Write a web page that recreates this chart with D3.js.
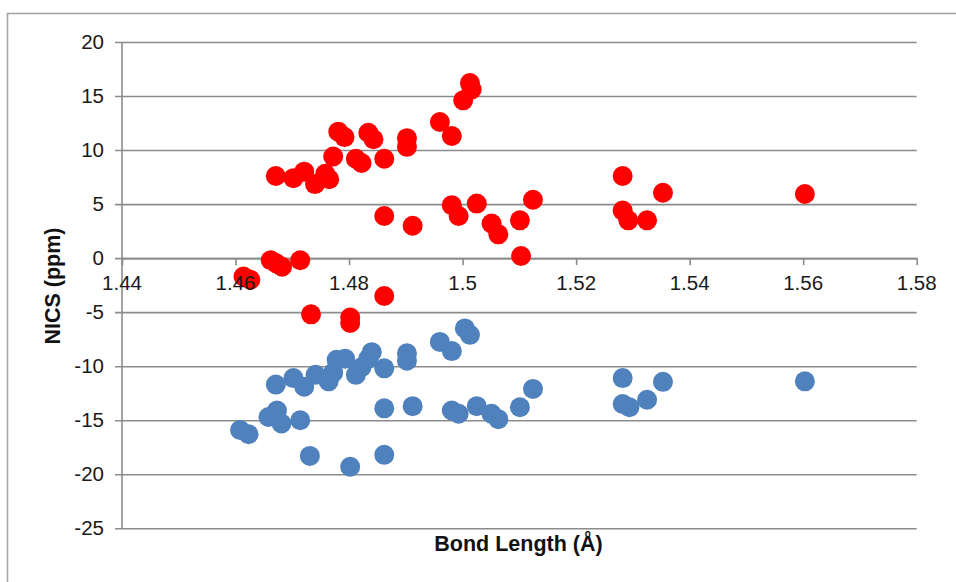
<!DOCTYPE html>
<html>
<head>
<meta charset="utf-8">
<script src="https://cdn.jsdelivr.net/npm/d3@7"></script>
<style>
  html, body { margin: 0; padding: 0; background: #fff; }
  svg { display: block; }
  text { font-family: "Liberation Sans", Arial, sans-serif; }
</style>
</head>
<body>
<svg id="chart" width="956" height="582"></svg>
<script>
// NICS values (ppm) against bond length (Å), two series
const redBond = [1.4614, 1.4626, 1.4662, 1.4672, 1.4682, 1.4714, 1.4671, 1.4702, 1.4721, 1.4740,
  1.4758, 1.4765, 1.4772, 1.4781, 1.4792, 1.4812, 1.4822, 1.4834, 1.4843, 1.4862,
  1.4862, 1.4862, 1.4733, 1.4802, 1.4802, 1.4902, 1.4902, 1.4912, 1.4960, 1.4981,
  1.5001, 1.5013, 1.5016, 1.4981, 1.4993, 1.5025, 1.5051, 1.5063, 1.5101, 1.5103,
  1.5124, 1.5282, 1.5282, 1.5292, 1.5325, 1.5353, 1.5603];
const redNics = [-1.7, -2.0, -0.2, -0.5, -0.8, -0.2, 7.6, 7.4, 8.0, 6.85,
  7.8, 7.3, 9.4, 11.7, 11.2, 9.2, 8.8, 11.6, 11.0, 9.2,
  3.9, -3.5, -5.2, -5.5, -6.0, 11.1, 10.3, 3.0, 12.6, 11.3,
  14.6, 16.2, 15.6, 4.9, 3.9, 5.05, 3.2, 2.2, 3.5, 0.2,
  5.4, 7.6, 4.4, 3.5, 3.5, 6.05, 5.93];

const blueBond = [1.4608, 1.4623, 1.4658, 1.4673, 1.4681, 1.4714, 1.4671, 1.4702, 1.4721, 1.4741,
  1.4764, 1.4772, 1.4778, 1.4793, 1.4812, 1.4822, 1.4834, 1.4840, 1.4862, 1.4731,
  1.4802, 1.4862, 1.4862, 1.4902, 1.4902, 1.4912, 1.4960, 1.4981, 1.5004, 1.5013,
  1.4981, 1.4993, 1.5025, 1.5051, 1.5063, 1.5101, 1.5124, 1.5282, 1.5282, 1.5294,
  1.5325, 1.5353, 1.5603];
const blueNics = [-15.9, -16.3, -14.7, -14.1, -15.3, -15.0, -11.7, -11.1, -11.9, -10.8,
  -11.4, -10.6, -9.4, -9.3, -10.8, -10.1, -9.3, -8.7, -10.2, -18.3,
  -19.3, -18.2, -13.9, -8.8, -9.5, -13.7, -7.75, -8.6, -6.5, -7.1,
  -14.1, -14.4, -13.7, -14.4, -14.9, -13.8, -12.1, -11.1, -13.5, -13.8,
  -13.1, -11.45, -11.4];

const xTicks = [1.44, 1.46, 1.48, 1.5, 1.52, 1.54, 1.56, 1.58];
const yTicks = [-25, -20, -15, -10, -5, 0, 5, 10, 15, 20];

const svg = d3.select("#chart");
const plotLeft = 122, plotRight = 916.7, plotTop = 42, plotBottom = 528.3;

const x = d3.scaleLinear().domain([1.44, 1.58]).range([plotLeft, plotRight]);
const y = d3.scaleLinear().domain([-25, 20]).range([plotBottom, plotTop]);

const lineColor = "#8c8c8c";

// outer chart frame
svg.append("rect")
  .attr("x", 7.5).attr("y", 13.5)
  .attr("width", 1000).attr("height", 600)
  .attr("fill", "none").attr("stroke", "#a6a6a6").attr("stroke-width", 1.6);

// horizontal gridlines with their outside ticks
const yAxis = d3.axisLeft(y).tickValues(yTicks)
  .tickSize(-(plotRight - plotLeft)).tickSizeOuter(0).tickFormat("");
const gY = svg.append("g").attr("transform", `translate(${plotLeft},0)`).call(yAxis);
gY.select(".domain").remove();
gY.selectAll(".tick line")
  .attr("x1", -7)
  .attr("stroke", lineColor).attr("stroke-width", 1.6);

// vertical axis line
svg.append("line")
  .attr("x1", plotLeft).attr("x2", plotLeft).attr("y1", plotTop).attr("y2", plotBottom)
  .attr("stroke", lineColor).attr("stroke-width", 1.6);

// horizontal axis crossing at zero
const xAxis = d3.axisBottom(x).tickValues(xTicks).tickSize(7).tickSizeOuter(0).tickFormat("");
const gX = svg.append("g").attr("transform", `translate(0,${y(0)})`).call(xAxis);
gX.select(".domain").attr("stroke", lineColor).attr("stroke-width", 1.6);
gX.selectAll(".tick line").attr("stroke", lineColor).attr("stroke-width", 1.6);

// markers
const blue = blueBond.map((b, i) => [b, blueNics[i]]);
const red = redBond.map((b, i) => [b, redNics[i]]);

svg.append("g").selectAll("circle").data(blue).join("circle")
  .attr("cx", d => x(d[0])).attr("cy", d => y(d[1])).attr("r", 10)
  .attr("fill", "#4f81bd");

svg.append("g").selectAll("circle").data(red).join("circle")
  .attr("cx", d => x(d[0])).attr("cy", d => y(d[1])).attr("r", 10)
  .attr("fill", "#ff0000");

// tick labels
svg.append("g").selectAll("text").data(yTicks).join("text")
  .attr("x", 104).attr("y", d => y(d))
  .attr("dy", "0.35em")
  .attr("text-anchor", "end")
  .attr("font-size", 20.5).attr("fill", "#1a1a1a")
  .text(d => d);

svg.append("g").selectAll("text").data(xTicks).join("text")
  .attr("x", d => x(d)).attr("y", y(0) + 25)
  .attr("dy", "0.35em")
  .attr("text-anchor", "middle")
  .attr("font-size", 20.5).attr("fill", "#1a1a1a")
  .text(d => d3.format("")(d));

// axis titles
svg.append("text")
  .attr("x", 518.5).attr("y", 551)
  .attr("text-anchor", "middle")
  .attr("font-size", 21.5).attr("font-weight", "bold").attr("fill", "#111")
  .text("Bond Length (Å)");

svg.append("text")
  .attr("transform", "translate(60,286) rotate(-90)")
  .attr("text-anchor", "middle")
  .attr("font-size", 21.5).attr("font-weight", "bold").attr("fill", "#111")
  .text("NICS (ppm)");
</script>
</body>
</html>
